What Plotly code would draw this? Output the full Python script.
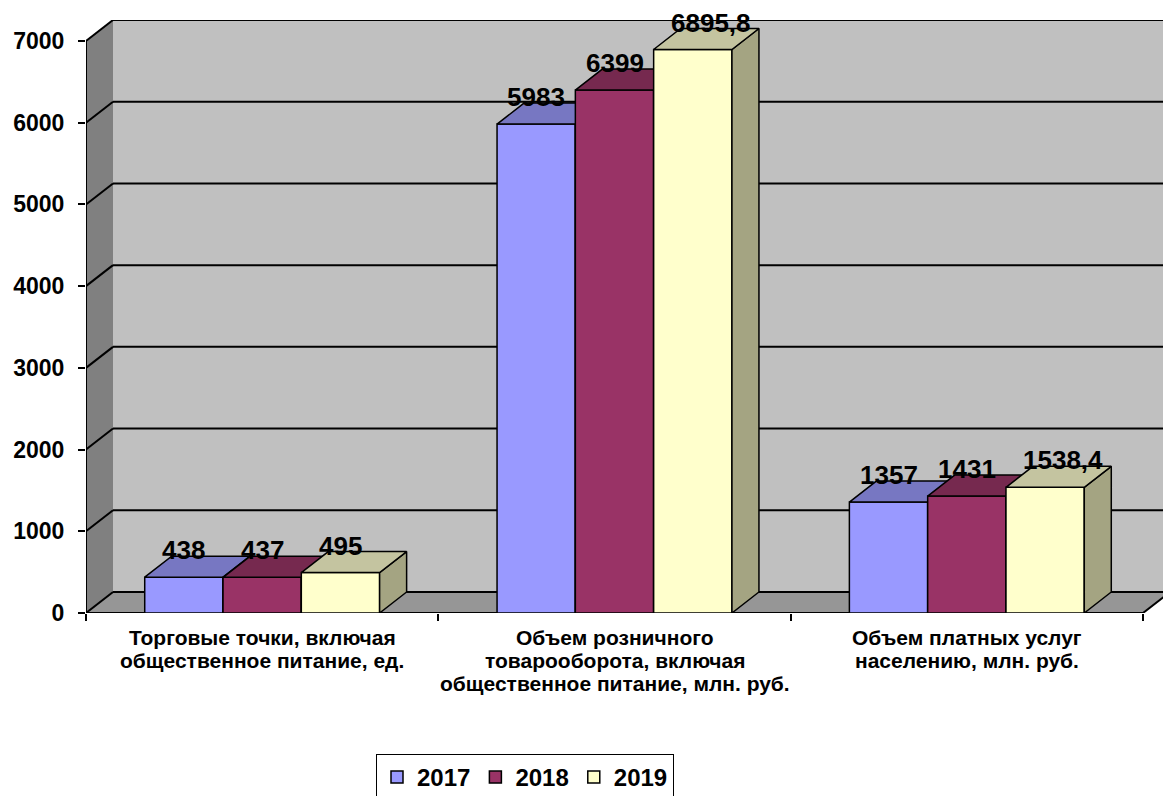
import plotly.graph_objects as go

# ---------------- data ----------------
categories = [
    "Торговые точки, включая\nобщественное питание, ед.",
    "Объем розничного\nтоварооборота, включая\nобщественное питание, млн. руб.",
    "Объем платных услуг\nнаселению, млн. руб.",
]
years = ["2017", "2018", "2019"]
v2017 = [438, 5983, 1357]
v2018 = [437, 6399, 1431]
v2019 = [495, 6895.8, 1538.4]
yticks = [0, 1000, 2000, 3000, 4000, 5000, 6000, 7000]

series = [v2017, v2018, v2019]
front_colors = ["#9999FF", "#993366", "#FFFFCC"]
top_colors = ["#7777C2", "#76294F", "#C4C4A0"]
side_colors = ["#6A6AB0", "#662244", "#A4A482"]

# ---------------- geometry (pixels) ----------------
W, H = 1163, 796
L, T, B = 86, 20, 183
cat_px = (1143 - 86) / 3.0
k = 572.0 / 7000.0           # px per unit
DX = 27.0 / cat_px           # depth offset in x units
DY = 21.0 / k                # depth offset in y units
plot_h = H - T - B
xr = [-0.5, -0.5 + (W - L) / cat_px]
yr = [0, plot_h / k]
bw = 0.6667 / 3.0
xs = list(range(len(categories)))
ymax = yticks[-1]

font_main = dict(family="Liberation Sans, Arial", color="black", weight="bold")

fig = go.Figure()

for s, vals in enumerate(series):
    ax = "" if s == 0 else str(s + 1)
    xa, ya = "x" + ax, "y" + ax
    off = -1.5 * bw + s * bw
    fig.add_trace(go.Bar(
        x=xs, y=vals, width=bw, offset=off, name=years[s],
        marker=dict(color=front_colors[s], line=dict(color="black", width=1.5)),
        xaxis=xa, yaxis=ya, hoverinfo="y",
    ))
    for c, v in zip(xs, vals):
        xl = c + off
        xrgt = xl + bw
        # side face
        fig.add_trace(go.Scatter(
            x=[xrgt, xrgt, xrgt + DX, xrgt + DX, xrgt],
            y=[0, v, v + DY, DY, 0],
            mode="lines", fill="toself", fillcolor=side_colors[s],
            line=dict(color="black", width=1.5), showlegend=False,
            hoverinfo="skip", xaxis=xa, yaxis=ya,
        ))
        # top face
        fig.add_trace(go.Scatter(
            x=[xl, xrgt, xrgt + DX, xl + DX, xl],
            y=[v, v, v + DY, v + DY, v],
            mode="lines", fill="toself", fillcolor=top_colors[s],
            line=dict(color="black", width=1.5), showlegend=False,
            hoverinfo="skip", xaxis=xa, yaxis=ya,
        ))

# data labels
for s, vals in enumerate(series):
    off = -1.5 * bw + s * bw
    for c, v in zip(xs, vals):
        txt = f"{v:g}".replace(".", ",")
        fig.add_annotation(
            x=c + off + bw / 2, y=v, xref="x", yref="y", yshift=27,
            xshift=(18 if "," in txt else 0),
            text=txt, showarrow=False,
            font=dict(size=26, **font_main),
        )

# category labels (one annotation per line, tight Excel-like line spacing)
for c, cat in zip(xs, categories):
    for i, line in enumerate(cat.split("\n")):
        fig.add_annotation(
            x=c, y=0, xref="x", yref="paper", yanchor="middle",
            yshift=-24 - 23 * i, text=line, showarrow=False,
            font=dict(size=21, **font_main),
        )

# walls, floor, grid
x0, x1 = -0.5, 2.5
shapes = []
shapes.append(dict(type="rect", xref="x", yref="y", x0=x0 + DX, x1=xr[1] + 1, y0=DY, y1=ymax + DY,
                   fillcolor="#C0C0C0", line=dict(width=0), layer="below"))
shapes.append(dict(type="path", xref="x", yref="y",
                   path=f"M{x0},0 L{x0},{ymax} L{x0+DX},{ymax+DY} L{x0+DX},{DY} Z",
                   fillcolor="#808080", line=dict(width=0), layer="below"))
shapes.append(dict(type="path", xref="x", yref="y",
                   path=f"M{x0},0 L{x1},0 L{x1+DX},{DY} L{x0+DX},{DY} Z",
                   fillcolor="#969696", line=dict(width=0), layer="below"))
for v in yticks:
    shapes.append(dict(type="line", xref="x", yref="y", x0=x0 + DX, x1=xr[1] + 1, y0=v + DY, y1=v + DY,
                       line=dict(color="black", width=2), layer="below"))
    shapes.append(dict(type="line", xref="x", yref="y", x0=x0, x1=x0 + DX, y0=v, y1=v + DY,
                       line=dict(color="black", width=2), layer="below"))
shapes.append(dict(type="line", xref="x", yref="y", x0=x0, x1=x1, y0=0, y1=0,
                   line=dict(color="black", width=2), layer="below"))
shapes.append(dict(type="line", xref="x", yref="y", x0=x1, x1=x1 + DX, y0=0, y1=DY,
                   line=dict(color="black", width=2), layer="below"))
shapes.append(dict(type="line", xref="x", yref="y", x0=x0, x1=x0, y0=0, y1=ymax,
                   line=dict(color="black", width=2), layer="below"))

layout = dict(
    width=W, height=H,
    margin=dict(l=L, r=0, t=T, b=B, pad=0, autoexpand=False),
    paper_bgcolor="white", plot_bgcolor="white",
    barmode="overlay",
    showlegend=True,
    shapes=shapes,
    xaxis=dict(range=xr, tickmode="array", tickvals=xs, ticktext=["", "", ""], ticks="",
               showgrid=False, zeroline=False, showline=False, fixedrange=True,
               minor=dict(tickmode="array", tickvals=[-0.5, 0.5, 1.5, 2.5], ticks="outside",
                          ticklen=7, tickwidth=1.5, tickcolor="black", showgrid=False)),
    yaxis=dict(range=yr, tickmode="array", tickvals=yticks, ticks="outside", ticklen=7,
               tickwidth=1.5, tickcolor="black", showgrid=False, zeroline=False, showline=False,
               fixedrange=True, tickfont=dict(size=23, **font_main), ticklabelstandoff=9),
    legend=dict(orientation="h", x=(525 - L) / (W - L), xanchor="center",
                y=(H - B - 754) / plot_h, yanchor="top",
                bordercolor="black", borderwidth=1, bgcolor="white",
                font=dict(size=24, **font_main), traceorder="normal"),
)
for s in range(1, 3):
    layout[f"xaxis{s+1}"] = dict(range=xr, overlaying="x", visible=False, fixedrange=True)
    layout[f"yaxis{s+1}"] = dict(range=yr, overlaying="y", visible=False, fixedrange=True)

fig.update_layout(**layout)

fig.write_html("out.html", config={"displayModeBar": False},
               post_script="document.body.style.margin='0';document.body.style.overflow='hidden';")
